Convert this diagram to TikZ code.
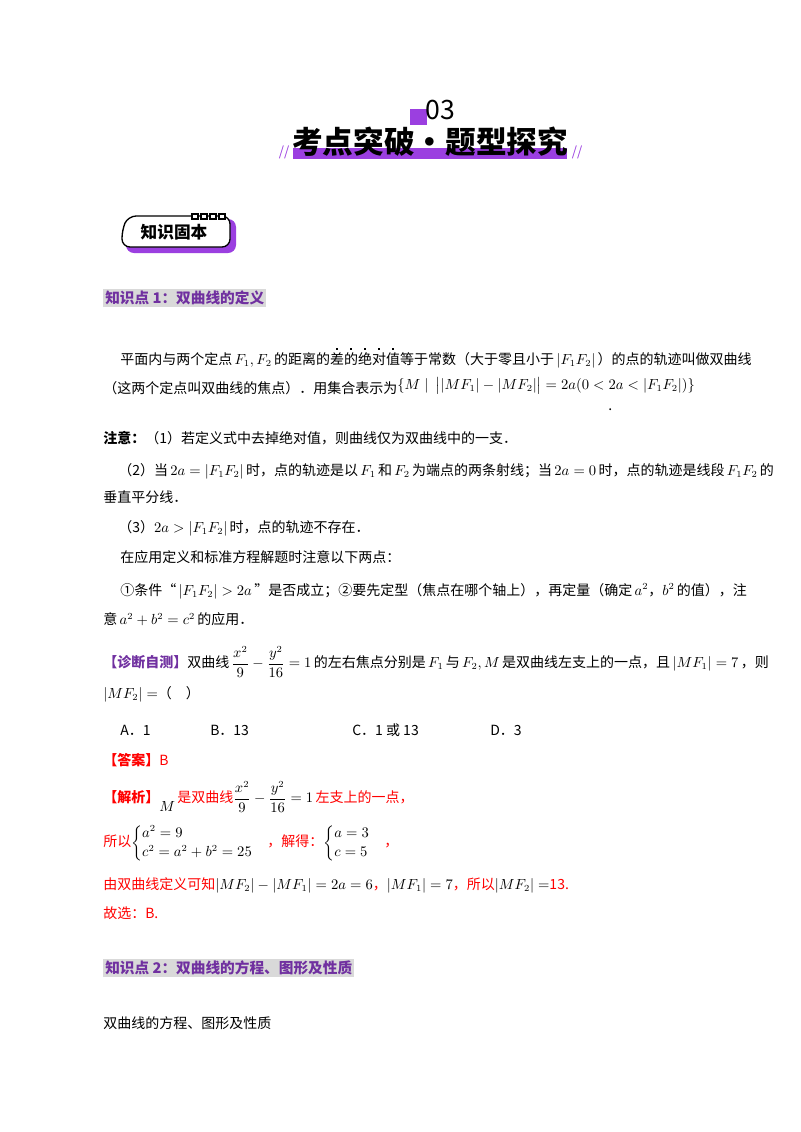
\documentclass[tikz,border=0pt]{standalone}
\usepackage{amsmath}
\usepackage{fontspec}
\setmainfont{Noto Sans CJK SC}
\definecolor{pbar}{HTML}{9B3FE0}
\definecolor{phead}{HTML}{7030A0}
\definecolor{gbg}{HTML}{D9D9D9}
\definecolor{ans}{HTML}{FF0000}
\newcommand\edot[1]{\makebox[0pt][l]{\makebox[1em]{\raisebox{1.05em}{\rule{1.3pt}{1.3pt}}}}#1}
\tikzset{
  line/.style={anchor=west,inner sep=0pt,font=\fontsize{10.5}{12}\selectfont},
  head/.style={anchor=west,inner sep=1.5pt,fill=gbg,text=phead,font=\fontsize{11}{13}\selectfont\bfseries},
}
\begin{document}
\begin{tikzpicture}[x=0.75pt,y=-0.75pt]
\useasboundingbox (0,0) rectangle (800,1132);
% header
\fill[pbar] (410,109) rectangle (427,125);
\node[inner sep=0pt,font=\fontsize{20}{22}\selectfont] (num) at (440,110) {03};
\fill[pbar] (293,148) rectangle (567,159);
\node[inner sep=0pt,font=\fontsize{23}{26}\selectfont\bfseries] (title) at (430,142) {考点突破·题型探究};
\node[inner sep=0pt,text=pbar,font=\fontsize{10}{10}\selectfont\itshape] (l1) at (284,152) {//};
\node[inner sep=0pt,text=pbar,font=\fontsize{10}{10}\selectfont\itshape] (l2) at (577,152) {//};
% badge
\fill[pbar,rounded corners=6pt] (126,219) -- (236,219) -- (236,253) -- (126,253) -- cycle;
\draw[line width=1pt,fill=white,rounded corners=6pt] (128,216) -- (230,216) -- (230,247) -- (122,247) -- (122,230) -- cycle;
\foreach \i in {0,1,2,3}{\draw[line width=0.8pt,fill=white] (192+\i*9,214) rectangle +(6,5);}
\node[inner sep=0pt,font=\fontsize{12.5}{14}\selectfont\bfseries] (badge) at (174,232) {知识固本};
% sections
\node[head] (h1) at (103,298) {知识点 1：双曲线的定义};
\node[line] (t1) at (120,358) {平面内与两个定点\,$F_1,F_2$\,的距离的\edot{差}\edot{的}\edot{绝}\edot{对}\edot{值}等于常数（大于零且小于\,$|F_1F_2|$\,）的点的轨迹叫做双曲线};
\node[line] (t2) at (103,386) {（这两个定点叫双曲线的焦点）．用集合表示为\raisebox{0.5ex}{$\{M\mid\ \bigl||MF_1|-|MF_2|\bigr|=2a(0<2a<|F_1F_2|)\}$}};
\node[line] (t2b) at (608,410) {.};
\node[line] (t3) at (103,438) {\textbf{注意：}（1）若定义式中去掉绝对值，则曲线仅为双曲线中的一支．};
\node[line] (t4) at (118,471) {（2）当\,$2a=|F_1F_2|$\,时，点的轨迹是以\,$F_1$\,和\,$F_2$\,为端点的两条射线；当\,$2a=0$\,时，点的轨迹是线段\,$F_1F_2$\,的};
\node[line] (t5) at (103,497) {垂直平分线．};
\node[line] (t6) at (118,528) {（3）$2a>|F_1F_2|$\,时，点的轨迹不存在．};
\node[line] (t7) at (120,557) {在应用定义和标准方程解题时注意以下两点：};
\node[line] (t8) at (120,591) {①条件“\,$|F_1F_2|>2a$\,”是否成立；②要先定型（焦点在哪个轴上），再定量（确定\,$a^2$，$b^2$\,的值），注};
\node[line] (t9) at (103,619) {意\,$a^2+b^2=c^2$\,的应用．};
\node[line] (q1) at (103,662) {\textcolor{phead}{\textbf{【诊断自测】}}双曲线\,$\dfrac{x^2}{9}-\dfrac{y^2}{16}=1$\,的左右焦点分别是\,$F_1$\,与\,$F_2,M$\,是双曲线左支上的一点，且\,$|MF_1|=7$\,，则};
\node[line] (q2) at (103,694) {$|MF_2|=$（\quad）};
\node[line] (oa) at (120,730) {A．1};
\node[line] (ob) at (210,730) {B．13};
\node[line] (oc) at (352,730) {C．1 或 13};
\node[line] (od) at (490,730) {D．3};
\node[line,text=ans] (a1) at (103,760) {\textbf{【答案】}B};
\node[line,text=ans] (a2) at (103,797) {\textbf{【解析】}\raisebox{-1.2ex}{\color{black}$M$}\,是双曲线{\color{black}$\dfrac{x^2}{9}-\dfrac{y^2}{16}=1$}\,左支上的一点，};
\node[line,text=ans] (a3) at (103,843) {所以{\color{black}$\begin{cases}a^2=9\\ c^2=a^2+b^2=25\end{cases}$}，解得：{\color{black}$\begin{cases}a=3\\ c=5\end{cases}$}，};
\node[line,text=ans] (a4) at (103,885) {由双曲线定义可知{\color{black}$|MF_2|-|MF_1|=2a=6$}，{\color{black}$|MF_1|=7$}，所以{\color{black}$|MF_2|=$}13.};
\node[line,text=ans] (a5) at (103,913) {故选：B.};
\node[head] (h2) at (103,968) {知识点 2：双曲线的方程、图形及性质};
\node[line] (t10) at (103,1023) {双曲线的方程、图形及性质};
\end{tikzpicture}
\end{document}
